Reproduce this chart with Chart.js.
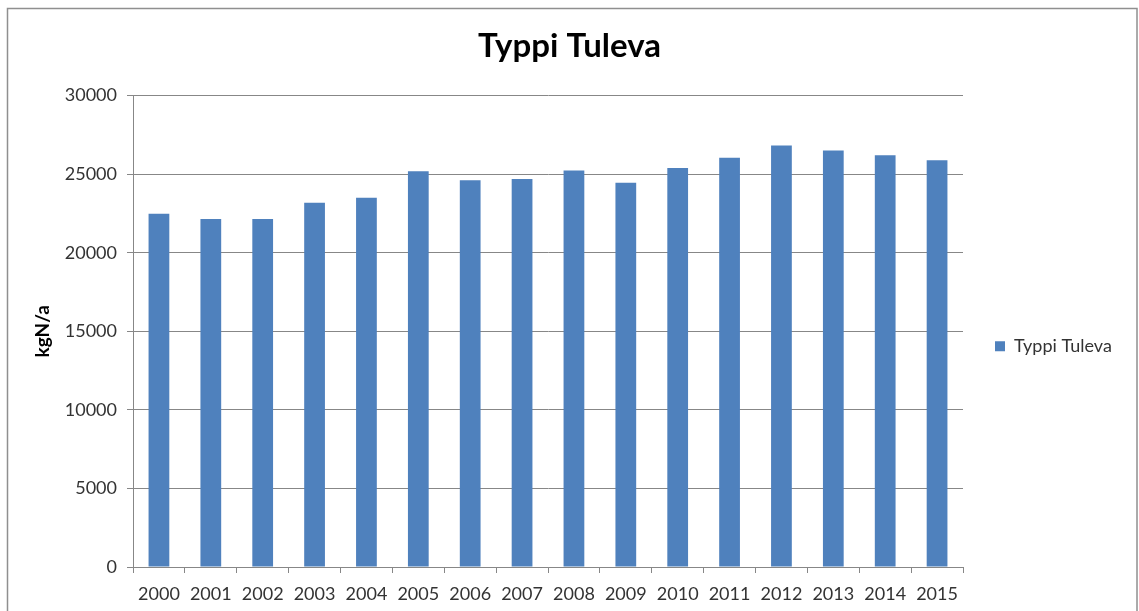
<!DOCTYPE html>
<html>
<head>
<meta charset="utf-8">
<script src="https://cdn.jsdelivr.net/npm/chart.js@4"></script>
<style>
  html, body { margin: 0; padding: 0; background: #fff; }
  #wrap { position: relative; width: 1139px; height: 611px; }
</style>
</head>
<body>
<div id="wrap"><canvas id="c" width="1139" height="611"></canvas></div>
<script>
const chartTitle = 'Typpi Tuleva';
const seriesName = 'Typpi Tuleva';
const yAxisTitle = 'kgN/a';
const years = ['2000','2001','2002','2003','2004','2005','2006','2007','2008','2009','2010','2011','2012','2013','2014','2015'];
const values = [22480, 22150, 22150, 23180, 23500, 25180, 24620, 24700, 25230, 24450, 25400, 26050, 26830, 26500, 26200, 25880];
const yTicks = [0, 5000, 10000, 15000, 20000, 25000, 30000];

const FONT = 'Lato, "Open Sans", sans-serif';
const GRID = '#878787';

const frame = {
  id: 'frame',
  beforeDraw(chart) {
    const ctx = chart.ctx;
    ctx.save();
    ctx.fillStyle = '#ffffff';
    ctx.fillRect(0, 0, chart.width, chart.height);
    ctx.strokeStyle = '#8f8f8f';
    ctx.lineWidth = 1.5;
    ctx.strokeRect(7.5, 8.5, 1129.5, 700);
    ctx.restore();
  }
};

const legendFix = {
  id: 'legendFix',
  beforeLayout(chart) {
    const lg = chart.legend;
    if (lg && !lg._wrapped) {
      const origFit = lg.fit.bind(lg);
      lg.fit = function () { origFit(); this.width = 176; };
      const origDraw = lg.draw.bind(lg);
      lg.draw = function () {
        const ctx = this.ctx;
        ctx.save();
        ctx.translate(0, 15);
        origDraw();
        ctx.restore();
      };
      lg._wrapped = true;
    }
  }
};

new Chart(document.getElementById('c'), {
  type: 'bar',
  data: {
    labels: years,
    datasets: [{
      label: seriesName,
      data: values,
      backgroundColor: '#4F81BD',
      borderWidth: 0,
      barPercentage: 0.4,
      categoryPercentage: 1.0
    }]
  },
  options: {
    responsive: false,
    animation: false,
    devicePixelRatio: 1,
    layout: { padding: { left: 0, right: 0, top: 0, bottom: 0 } },
    plugins: {
      title: {
        display: true,
        text: chartTitle,
        color: '#000000',
        font: { family: FONT, size: 33, weight: 'bold' },
        padding: { top: 27, bottom: 29 }
      },
      legend: {
        display: true,
        position: 'right',
        fullSize: false,
        labels: {
          boxWidth: 10,
          boxHeight: 10,
          padding: 32,
          color: '#333333',
          font: { family: FONT, size: 18 }
        }
      },
      tooltip: { enabled: false }
    },
    scales: {
      x: {
        offset: true,
        grid: {
          offset: true,
          drawOnChartArea: false,
          drawTicks: true,
          tickLength: 6,
          color: GRID
        },
        border: { display: true, color: GRID, width: 1 },
        ticks: {
          color: '#333333',
          font: { family: FONT, size: 18 },
          padding: 10,
          maxRotation: 0,
          autoSkip: false
        },
        afterFit(scale) { scale.height = 44; }
      },
      y: {
        min: 0,
        max: 30000,
        afterBuildTicks(scale) { scale.ticks = yTicks.map(v => ({ value: v })); },
        grid: {
          color: GRID,
          lineWidth: 1,
          drawTicks: true,
          tickLength: 6
        },
        border: { display: true, color: GRID, width: 1 },
        ticks: {
          color: '#333333',
          font: { family: FONT, size: 18 },
          padding: 10,
          callback: v => String(v)
        },
        title: {
          display: true,
          text: yAxisTitle,
          color: '#000000',
          font: { family: FONT, size: 19, weight: 'bold' },
          padding: { top: 31, bottom: 0 }
        },
        afterFit(scale) { scale.width = 133; }
      }
    }
  },
  plugins: [frame, legendFix]
});
</script>
</body>
</html>
